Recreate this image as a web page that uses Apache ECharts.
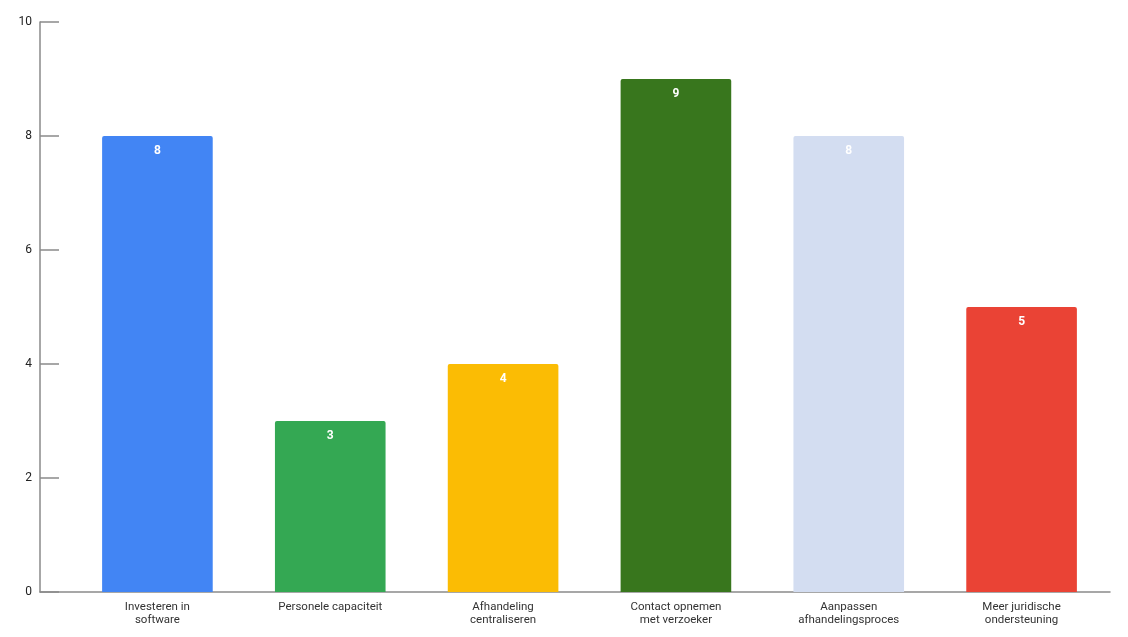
<!DOCTYPE html>
<html><head><meta charset="utf-8">
<script src="https://cdn.jsdelivr.net/npm/echarts@6/dist/echarts.min.js"></script>
<style>html,body{margin:0;padding:0;background:#fff}#c{width:1128px;height:637px}</style>
</head><body><div id="c"></div>
<script>
const categories = ["Investeren in\nsoftware","Personele capaciteit","Afhandeling\ncentraliseren","Contact opnemen\nmet verzoeker","Aanpassen\nafhandelingsproces","Meer juridische\nondersteuning"];
const values = [8, 3, 4, 9, 8, 5];
const barColors = ["#4285F4","#34A853","#FBBC04","#38761D","#D3DDF1","#EA4335"];
const yTicks = [0, 2, 4, 6, 8, 10];

const chart = echarts.init(document.getElementById('c'), null, {renderer:'canvas'});
const font = 'Roboto, "Liberation Sans", Arial, sans-serif';
chart.setOption({
  animation: false,
  grid: [
    {left: 40, right: 18, top: 22, bottom: 45},
    {left: 71, right: 20, top: 22, bottom: 45}
  ],
  xAxis: [
    {gridIndex: 0, type: 'value', min: 0, max: 1, axisLine: {show: true, onZero: false, lineStyle: {color: '#8a8a8a', width: 1.5}},
     axisTick: {show: false}, axisLabel: {show: false}, splitLine: {show: false}},
    {gridIndex: 1, type: 'category', data: categories, axisLine: {show: false}, axisTick: {show: false},
     axisLabel: {color: '#333', fontFamily: font, fontSize: 11.5, lineHeight: 13, margin: 9, interval: 0}}
  ],
  yAxis: [
    {gridIndex: 0, type: 'value', min: yTicks[0], max: yTicks[yTicks.length-1], interval: 2,
     axisLine: {show: true, lineStyle: {color: '#8a8a8a', width: 1.5}},
     axisTick: {show: true, inside: true, length: 19, lineStyle: {color: '#8a8a8a', width: 1.5}},
     axisLabel: {color: '#222', fontFamily: font, fontSize: 12, margin: 8},
     splitLine: {show: false}},
    {gridIndex: 1, type: 'value', min: yTicks[0], max: yTicks[yTicks.length-1], interval: 2, show: false, splitLine: {show: false}}
  ],
  series: [{
    type: 'bar', xAxisIndex: 1, yAxisIndex: 1,
    data: values.map((v, i) => ({value: v, itemStyle: {color: barColors[i]}})),
    barWidth: '64%',
    itemStyle: {borderRadius: [2, 2, 0, 0]},
    label: {show: true, position: 'insideTop', distance: 9, color: '#fff', fontWeight: 'bold', fontFamily: font, fontSize: 12}
  }]
});
</script></body></html>
